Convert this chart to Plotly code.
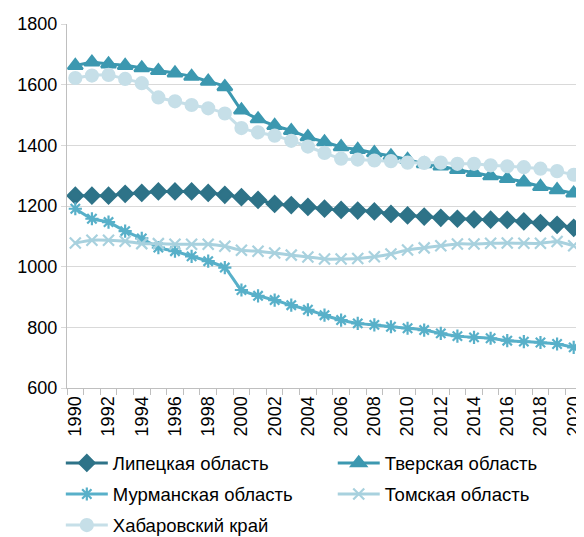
import plotly.graph_objects as go

years = list(range(1990, 2021))
tick_labels = [str(y) for y in range(1990, 2021, 2)]

lipetsk = [1234, 1234, 1234, 1240, 1243, 1248, 1248, 1248, 1243, 1237,
           1229, 1220, 1207, 1203, 1197, 1191, 1187, 1185, 1182, 1174,
           1169, 1165, 1161, 1158, 1156, 1155, 1154, 1149, 1144, 1138, 1128]
tver = [1663, 1674, 1668, 1663, 1655, 1646, 1638, 1627, 1611, 1593,
        1516, 1487, 1465, 1448, 1428, 1411, 1395, 1386, 1375, 1365,
        1353, 1339, 1331, 1320, 1310, 1299, 1290, 1279, 1264, 1253, 1242]
murmansk = [1191, 1158, 1147, 1117, 1093, 1063, 1051, 1034, 1018, 997,
            923, 904, 890, 873, 858, 840, 824, 813, 808, 802,
            797, 791, 780, 771, 767, 764, 756, 753, 750, 745, 734]
tomsk = [1078, 1087, 1087, 1084, 1076, 1076, 1074, 1074, 1074, 1067,
         1054, 1051, 1045, 1038, 1032, 1025, 1025, 1027, 1033, 1042,
         1055, 1062, 1069, 1075, 1075, 1077, 1078, 1077, 1077, 1083, 1069]
khabarovsk = [1622, 1630, 1632, 1619, 1605, 1558, 1545, 1533, 1522, 1505,
              1457, 1443, 1432, 1415, 1396, 1375, 1356, 1353, 1350, 1348,
              1343, 1342, 1343, 1339, 1339, 1334, 1331, 1328, 1323, 1315, 1303]

# name, values, colour, marker, size, legend column
series = [
    ("Липецкая область", lipetsk, "#2E7388", "diamond", 12, "legend"),
    ("Тверская область", tver, "#3C98B0", "triangle-up", 13, "legend2"),
    ("Мурманская область", murmansk, "#58B0C9", "asterisk-open", 11, "legend"),
    ("Томская область", tomsk, "#A8D1DE", "x-thin-open", 11, "legend2"),
    ("Хабаровский край", khabarovsk, "#C6DFE8", "circle", 12, "legend"),
]

fig = go.Figure()
for name, vals, color, symbol, size, leg in series:
    fig.add_trace(go.Scatter(
        x=years, y=vals, name=name, mode="lines+markers",
        legend=leg, legendgroup=name,
        line=dict(color=color, width=3, shape="spline", smoothing=0.5),
        marker=dict(symbol=symbol, size=size, color=color,
                    line=dict(color=color, width=2.2)),
    ))

legend_style = dict(
    orientation="v", yanchor="top", xanchor="left", itemwidth=42,
    font=dict(size=18.5), tracegroupgap=4, bgcolor="rgba(0,0,0,0)",
)

# page body has an 8px margin, so the figure is a little smaller
fig.update_layout(
    width=576, height=529,
    margin=dict(l=59, r=2, t=16, b=149, autoexpand=False),
    plot_bgcolor="white", paper_bgcolor="white",
    font=dict(family="Liberation Sans, Arial, sans-serif", size=18, color="#000000"),
    showlegend=True,
    legend=dict(x=-0.012, y=-0.155, **legend_style),
    legend2=dict(x=0.516, y=-0.155, **legend_style),
    xaxis=dict(
        range=[1989.5, 2020.5], automargin=False,
        tickmode="array", tickvals=[int(t) for t in tick_labels], ticktext=tick_labels,
        tickangle=-90, ticks="", showgrid=False,
        showline=True, linecolor="#BFBFBF", linewidth=1.3,
        minor=dict(tickmode="linear", tick0=1989.5, dtick=1, ticks="outside",
                   ticklen=6, tickcolor="#BFBFBF", showgrid=False),
        tickfont=dict(size=18),
    ),
    yaxis=dict(
        range=[600, 1800], dtick=200, tick0=600, automargin=False,
        showgrid=True, gridcolor="#D9D9D9", gridwidth=1.3,
        showline=True, linecolor="#BFBFBF", linewidth=1.3,
        ticks="outside", ticklen=5, tickcolor="#D9D9D9",
        zeroline=False, tickfont=dict(size=18),
    ),
)

fig.write_html("out.html")
